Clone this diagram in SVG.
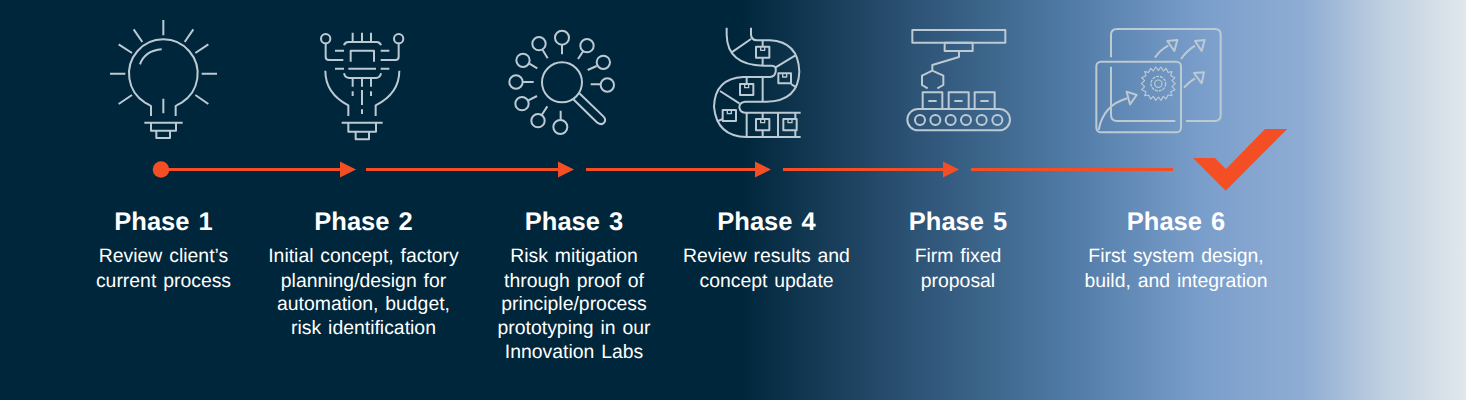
<svg xmlns="http://www.w3.org/2000/svg" width="1466" height="400" viewBox="0 0 1466 400">
<style>
.i{fill:none;stroke:#bccad4;stroke-width:6;stroke-linecap:butt;stroke-linejoin:round}
.t{font-family:"Liberation Sans",Arial,sans-serif;fill:#fff;text-anchor:middle;text-rendering:geometricPrecision}
.h{font-size:25.500px;font-weight:700;word-spacing:2px}
.b{font-size:19.400px;word-spacing:1.500px}
.c{stroke:#f44f24;stroke-width:3;fill:none}
.a{fill:#f44f24}
</style>
<defs>
<linearGradient id="bg" x1="0" y1="0" x2="1466" y2="0" gradientUnits="userSpaceOnUse">
<stop offset="0" stop-color="#00263b"/><stop offset=".505" stop-color="#00263b"/><stop offset=".6" stop-color="#254a6a"/><stop offset=".73" stop-color="#507ba6"/><stop offset=".82" stop-color="#7a9ecb"/><stop offset=".89" stop-color="#8fadd4"/><stop offset=".945" stop-color="#c0d0e0"/><stop offset="1" stop-color="#e0e8ec"/>
</linearGradient>
</defs>
<rect width="1466" height="400" fill="url(#bg)"/>
<g id="connectors">
<circle class="a" cx="161" cy="169.500" r="8.300"/>
<path class="c" d="M161 169.500H342M366 169.500H560M586 169.500H757M783 169.500H945M971 169.500H1173"/>
<path class="a" d="M340 161.500L356 169.500L340 177.500ZM558 161.500L574 169.500L558 177.500ZM755 161.500L771 169.500L755 177.500ZM943 161.500L959 169.500L943 177.500Z"/>
</g>
<g id="phase1">
<g transform="translate(90 10) scale(.33333)"><path class="i" d="M220 30V76M131 58L157 96M310 58L284 96M86 103L126 129M355 103L316 129M60 191H106M335 191H381M86 282L126 255M355 282L316 255M183 318V288Q176 284 165 278A103 103 0 1 1 275 278Q264 284 257 288V318M150 163Q165 122 215 118M220 266V310M163 338H278M183 338V362H258V338M199 362V384H240V362"/></g>
<text class="t h" x="163.500" y="230">Phase 1</text>
<text class="t b" x="163.500" y="262">Review client’s</text><text class="t b" x="163.500" y="286.500">current process</text>
</g>
<g id="phase2">
<g transform="translate(90 10) scale(.33333)"><circle class="i" cx="707" cy="86" r="14"/><circle class="i" cx="926" cy="86" r="14"/><path class="i" d="M707 100V140Q707 150 717 150H760M926 100V140Q926 150 916 150H872M735 122H762M872 122H898M762 106Q765 96 775 96H860Q870 96 873 106M788 68V96M816 68V96M843 68V96M782 155V122H852V155M735 176H762M775 176H858M872 176H898M762 190Q765 204 778 204H858Q870 204 873 190M788 204V230M816 204V230M843 204V230M788 244V258M843 244V258M816 240V285M816 298V312M706 182Q706 250 775 286V318M928 182Q928 250 857 286V318M755 338H878M775 338V365H858V338M797 365V388H837V365"/></g>
<text class="t h" x="363.500" y="230">Phase 2</text>
<text class="t b" x="363.500" y="262">Initial concept, factory</text><text class="t b" x="363.500" y="286.500">planning/design for</text><text class="t b" x="363.500" y="310">automation, budget,</text><text class="t b" x="363.500" y="334">risk identification</text>
</g>
<g id="phase3">
<g transform="translate(490 15) scale(.33333)"><g class="i"><circle cx="216" cy="202" r="60"/><circle cx="216" cy="68" r="21"/><circle cx="147" cy="86" r="20"/><circle cx="291" cy="92" r="20"/><circle cx="99" cy="136" r="20"/><circle cx="340" cy="142" r="20"/><circle cx="78" cy="201" r="20"/><circle cx="352" cy="210" r="20"/><circle cx="96" cy="266" r="20"/><circle cx="144" cy="317" r="20"/><circle cx="211" cy="336" r="21"/><path d="M250 253L322 323Q335 332 343 322Q349 313 340 304L268 235M216 90V118M158 105L173 130M280 108L264 132M118 146L142 160M320 153L293 165M98 201H131M331 208H302M115 256L141 243M155 300L172 274M212 315V287"/></g></g>
<text class="t h" x="574" y="230">Phase 3</text>
<text class="t b" x="574" y="262">Risk mitigation</text><text class="t b" x="574" y="286.500">through proof of</text><text class="t b" x="574" y="310">principle/process</text><text class="t b" x="574" y="334">prototyping in our</text><text class="t b" x="574" y="358">Innovation Labs</text>
</g>
<g id="phase4">
<g transform="translate(490 15) scale(.33333)"><g class="i"><path d="M710 38V60Q712 150 820 152H845Q860 152 857 170Q855 185 840 186H760Q675 190 672 275Q680 365 770 366H932M783 38V60Q785 75 800 76H840Q925 80 928 170Q925 258 830 260H765Q748 262 748 277Q750 292 765 293H932M725 112L783 72M818 76V95M818 130V152M857 157L915 122M903 207L920 218M770 186V207M818 186V260M690 228L748 265M680 320L698 312M770 293V366M864 293V366M818 293V312M818 346V366M916 293V312M916 346V366"/><rect x="798" y="95" width="40" height="33"/><rect x="865" y="175" width="38" height="30"/><rect x="750" y="207" width="40" height="33"/><rect x="698" y="285" width="40" height="33"/><rect x="798" y="312" width="40" height="34"/><rect x="880" y="312" width="40" height="34"/><path stroke-width="4" d="M812 95V106H824V95M878 175V186H890V175M764 207V218H776V207M712 285V296H724V285M812 312V323H824V312M894 312V323H906V312"/></g></g>
<text class="t h" x="766.500" y="230">Phase 4</text>
<text class="t b" x="766.500" y="262">Review results and</text><text class="t b" x="766.500" y="286.500">concept update</text>
</g>
<g id="phase5">
<g transform="translate(890 15) scale(.33333)"><g class="i"><rect x="67" y="45" width="279" height="38"/><rect x="164" y="83" width="84" height="25"/><path d="M207 108V126L127 150V167M113 220L96 210V182L127 167L160 182V210L142 220M115 258H140M193 258H218M271 258H296"/><path d="M98 282V232H157V282M176 282V232H236V282M254 282V232H314V282"/><rect x="52" y="282" width="308" height="64" rx="32"/><circle cx="90" cy="315" r="15"/><circle cx="136" cy="315" r="15"/><circle cx="182" cy="315" r="15"/><circle cx="228" cy="315" r="15"/><circle cx="275" cy="315" r="15"/><circle cx="322" cy="315" r="15"/></g></g>
<text class="t h" x="958" y="230">Phase 5</text>
<text class="t b" x="958" y="262">Firm fixed</text><text class="t b" x="958" y="286.500">proposal</text>
</g>
<g id="phase6">
<g transform="translate(890 15) scale(.33333)"><g class="i"><path d="M663 127V60Q663 42 681 42H975Q992 42 992 60V300Q992 318 975 318H888M663 155V300Q663 318 681 318H856"/><rect x="619" y="140" width="254" height="212" rx="14"/><path d="M795 128Q810 105 835 92M873 132Q890 108 915 92M882 218Q895 202 915 190M626 345Q640 270 712 250"/><path d="M832 78L862 75L853 108ZM915 78L944 75L935 108ZM912 174L942 172L935 205ZM710 230L740 240L720 268Z"/><path stroke-width="3.500" d="M776 172L782 160L790 168L797 156L805 166L813 156L820 168L828 160L834 172L846 170L842 182L855 188L846 197L856 206L846 215L855 224L842 230L846 242L834 240L828 252L820 244L813 256L805 246L797 256L790 244L782 252L776 240L764 242L768 230L755 224L764 215L754 206L764 197L755 188L768 182L764 170Z"/><circle cx="805" cy="206" r="11" stroke-width="3.500"/><circle cx="805" cy="206" r="22" stroke-width="4" stroke-dasharray="9 3"/></g></g>
<text class="t h" x="1176" y="230">Phase 6</text>
<text class="t b" x="1176" y="262">First system design,</text><text class="t b" x="1176" y="286.500">build, and integration</text>
<path class="a" d="M1193 158H1215L1226 169L1265 129H1287.300L1225.700 190.700Z"/>
</g>
</svg>
